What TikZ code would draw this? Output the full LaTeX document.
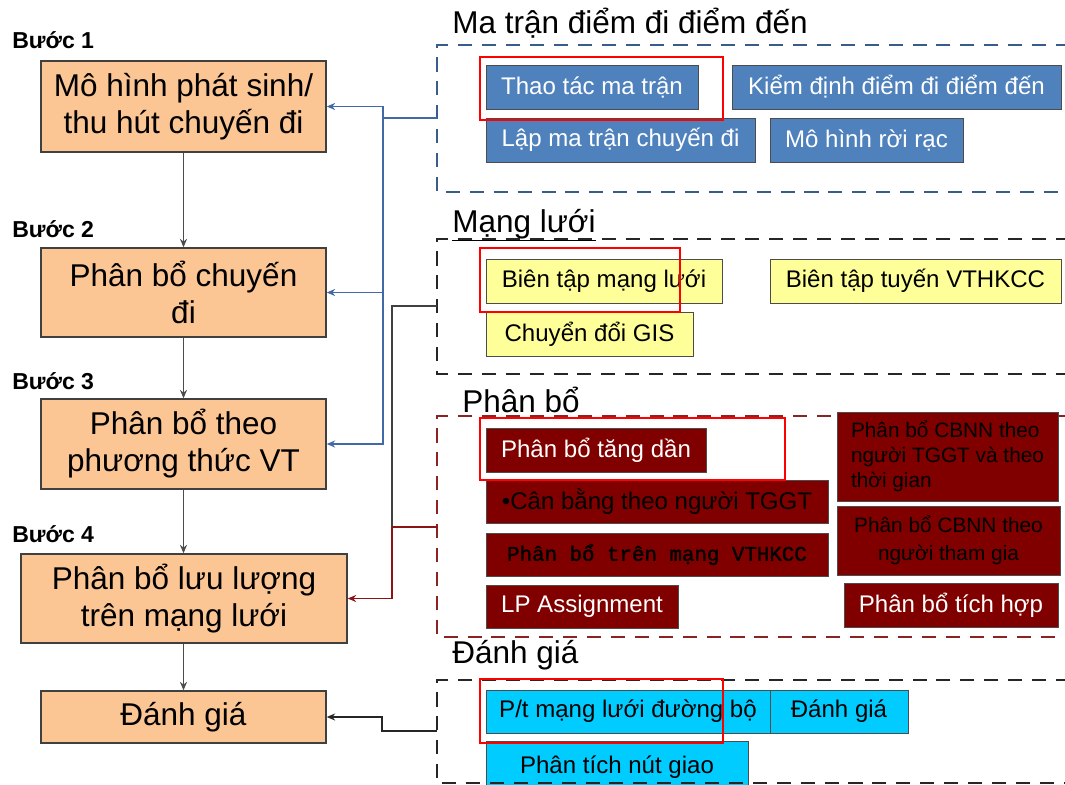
\documentclass[tikz,border=0pt]{standalone}
\usepackage{fontspec}
\setmainfont{Liberation Sans}
\setmonofont[FakeBold=1.5]{Liberation Mono}
\usetikzlibrary{arrows.meta, calc}

\definecolor{stepfill}{RGB}{251,197,148}
\definecolor{odfill}{RGB}{79,129,189}
\definecolor{netfill}{RGB}{255,255,153}
\definecolor{asgfill}{RGB}{128,0,0}
\definecolor{evalfill}{RGB}{0,204,255}
\definecolor{odline}{RGB}{56,93,138}
\definecolor{asgline}{RGB}{139,35,35}
\definecolor{linkblue}{RGB}{65,105,165}
\definecolor{linkred}{RGB}{140,20,20}

\begin{document}
\begin{tikzpicture}[
    x=0.025cm, y=-0.025cm,
    >={Stealth[length=6pt,width=5pt]},
    sz/.style 2 args={minimum width=#1*0.025cm, minimum height=#2*0.025cm},
    stepbox/.style={draw=black!75, line width=1pt, fill=stepfill, inner sep=0pt,
                    align=center, font=\fontsize{22.4}{26.3}\selectfont},
    steplbl/.style={anchor=base west, inner sep=0pt, font=\fontsize{16.4}{19}\selectfont\bfseries},
    grouplbl/.style={anchor=base west, inner sep=0pt, font=\fontsize{22.4}{26}\selectfont},
    tool/.style={draw=black!70, line width=0.6pt, inner sep=0pt, align=center,
                 font=\fontsize{17.1}{20}\selectfont},
    odbox/.style={tool, fill=odfill, text=white},
    netbox/.style={tool, fill=netfill},
    asgbox/.style={tool, fill=asgfill, text=white},
    evalbox/.style={tool, fill=evalfill},
    frame/.style={line width=1.9pt, dash pattern=on 10pt off 7pt},
    flow/.style={draw=black!70, line width=1pt},
    bluelink/.style={draw=linkblue, line width=1.2pt},
    graylink/.style={draw=black!75, line width=1pt},
    redlink/.style={draw=linkred, line width=1.2pt},
    blacklink/.style={draw=black!85, line width=1pt},
    hilite/.style={draw=red, line width=2pt}
  ]
  \useasboundingbox (0,0) rectangle (1065,784);
  \clip (0,0) rectangle (1065,784);

  % Steps
  \node[steplbl] (s1) at (12,48) {Bước 1};
  \node[steplbl] (s2) at (12,237) {Bước 2};
  \node[steplbl] (s3) at (12,389) {Bước 3};
  \node[steplbl] (s4) at (12,542) {Bước 4};

  \node[stepbox, sz={285}{91}] (b1) at (183.5,106.5) {Mô hình phát sinh/\\thu hút chuyến đi};
  \node[stepbox, sz={285}{89}] (b2) at (183.5,292.5) {Phân bổ chuyến\\đi};
  \node[stepbox, sz={285}{90}] (b3) at (183.5,444) {Phân bổ theo\\phương thức VT};
  \node[stepbox, sz={326}{89}] (b4) at (184,598.5) {Phân bổ lưu lượng\\trên mạng lưới};
  \node[stepbox, sz={285}{52}] (b5) at (183.5,717) {Đánh giá};

  \draw[flow,->] (b1) -- (b2);
  \draw[flow,->] (b2) -- (b3);
  \draw[flow,->] (b3.south) -- (b3.south |- b4.north);
  \draw[flow,->] (b4.south -| b5.north) -- (b5.north);

  % Groups
  \draw[frame, draw=odline] (1070,45) -| (437,192) -- (1070,192);
  \draw[frame, draw=black!85] (1070,239) -| (437,374) -- (1070,374);
  \draw[frame, draw=asgline, line width=1.6pt] (1070,416) -| (437,637) -- (1070,637);

  \node[grouplbl] (tA) at (452,33) {Ma trận điểm đi điểm đến};
  \node[grouplbl] (tB) at (452,232) {\underline{Mạng lưới}};
  \node[grouplbl] (tC) at (462,412) {Phân bổ};
  \node[grouplbl] (tD) at (452,663) {Đánh giá};

  % Ma tran diem di diem den
  \node[odbox, sz={212}{44}] (thao) at (592,87) {Thao tác ma trận};
  \node[odbox, sz={329}{44}] (kiem) at (896.5,87) {Kiểm định điểm đi điểm đến};
  \node[odbox, sz={269}{44}] (lap) at (620.5,140) {Lập ma trận chuyến đi};
  \node[odbox, sz={193}{44}] (roirac) at (866.5,140) {Mô hình rời rạc};

  % Mang luoi
  \node[netbox, sz={236}{44}] (btml) at (604,281) {Biên tập mạng lưới};
  \node[netbox, sz={291}{44}] (bttuyen) at (915.5,281) {Biên tập tuyến VTHKCC};
  \node[netbox, sz={207}{44}] (gis) at (589.5,334) {Chuyển đổi GIS};

  % Phan bo
  \node[asgbox, sz={220}{44}] (tang) at (596,450) {Phân bổ tăng dần};
  \node[asgbox, sz={342}{43}, text=black] (canbang) at (657,501.5) {•Cân bằng theo người TGGT};
  \node[asgbox, sz={342}{43}, text=black, font=\fontsize{14.8}{17}\ttfamily] (trenmang)
    at (657,554.5) {Phân bổ trên mạng VTHKCC};
  \node[asgbox, sz={192}{43}] (lp) at (582,606.5) {LP Assignment};
  \node[asgbox, sz={221}{89}, text=black, align=left, font=\fontsize{14.8}{17.8}\selectfont]
    (cbnn1) at (947.5,456.5) {Phân bổ CBNN theo\\người TGGT và theo\\thời gian};
  \node[asgbox, sz={223}{69}, text=black, font=\fontsize{14.8}{19.9}\selectfont]
    (cbnn2) at (948.5,540.5) {Phân bổ CBNN theo\\người tham gia};
  \node[asgbox, sz={214}{44}] (tichhop) at (951,605) {Phân bổ tích hợp};

  % Danh gia
  \node[evalbox, sz={284}{43}] (ptml) at (628,711.5) {P/t mạng lưới đường bộ};
  \node[evalbox, sz={138}{43}] (dgia) at (839,711.5) {Đánh giá};
  \node[evalbox, sz={262}{51}, anchor=north] (nut) at (617,741) {Phân tích nút giao};
  \draw[frame, draw=black!85] (1070,680) -| (437,783) -- (1070,783);

  % Links to steps
  \coordinate (mtA) at (437,118);
  \coordinate (mlB) at (437,306);
  \coordinate (pbC) at (437,527);
  \coordinate (dgD) at (437,731);
  \coordinate (jA) at (383,118);
  \coordinate (jC) at (392,527);
  \coordinate (jD) at (382,731);

  \draw[bluelink] (mtA) -- (jA);
  \draw[bluelink,->] (jA) |- (b1.east);
  \draw[bluelink,->] (jA) |- (b2.east);
  \draw[bluelink,->] (jA) |- (b3.east);
  \draw[graylink] (mlB) -| (jC);
  \draw[redlink] (pbC) -- (jC);
  \draw[redlink,->] (jC) |- (b4.east);
  \draw[blacklink,->] (dgD) -- (jD) |- (b5.east);

  % Highlights
  \draw[hilite] (480,57) rectangle (723,120);
  \draw[hilite] (480,248) rectangle (680,312);
  \draw[hilite] (480,418) rectangle (785,480);
  \draw[hilite] (480,679) rectangle (723,743);
\end{tikzpicture}
\end{document}
